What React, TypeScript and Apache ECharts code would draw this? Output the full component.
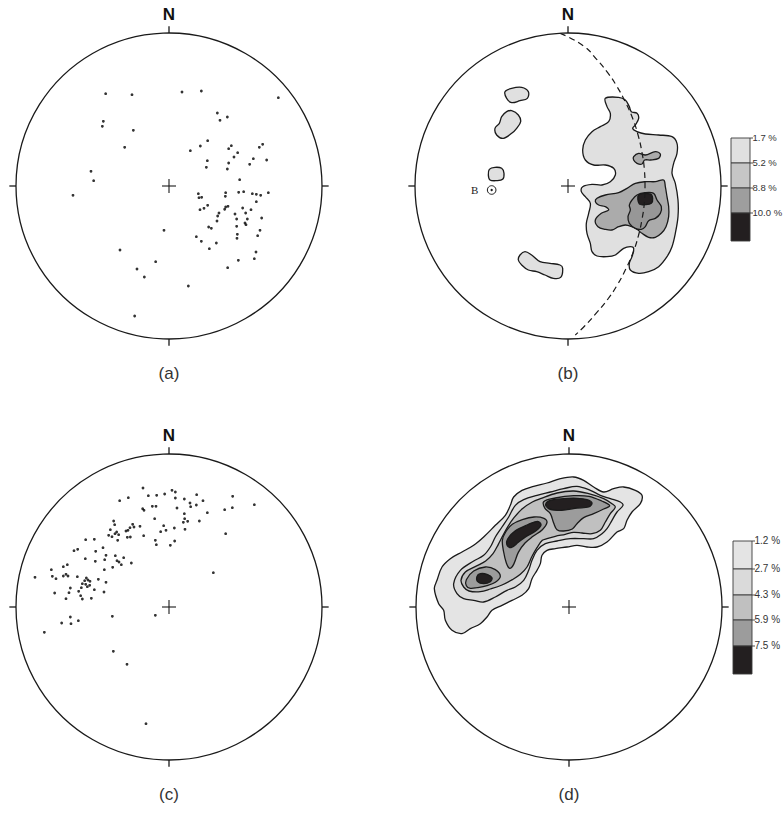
import React, { useEffect, useRef } from 'react';
import * as echarts from 'echarts';

// Projection units: radius of the primitive circle
const RADIUS = 459;
const TICK = 20;
const CROSS = 21;

// (a) poles
const POLES_A: number[][] = [
  [-190, 277], [-111, 274], [39, 282], [97, 285], [328, 265], [-197, 194], [-200, 179], [-107, 167],
  [145, 219], [153, 197], [175, 207], [-133, 116], [64, 106], [94, 120], [116, 136], [179, 112],
  [187, 121], [206, 100], [195, 87], [271, 116], [281, 125], [253, 82], [293, 78], [242, 65],
  [115, 76], [112, 56], [179, 69], [175, 51], [-234, 44], [-226, 16], [-288, -28], [212, 19],
  [88, -23], [90, -35], [98, -34], [170, -20], [169, -31], [209, -19], [224, -17], [250, -23],
  [262, -25], [275, -28], [298, -20], [262, -47], [246, -71], [93, -71], [105, -67], [116, -58],
  [167, -70], [177, -61], [170, -63], [150, -81], [146, -90], [144, -105], [198, -84], [203, -99],
  [221, -66], [230, -81], [235, -99], [228, -111], [231, -116], [278, -96], [203, -121], [119, -123],
  [127, -127], [-15, -133], [82, -152], [97, -166], [142, -171], [121, -188], [205, -145], [204, -157],
  [273, -133], [266, -149], [261, -198], [256, -218], [208, -223], [176, -245], [-147, -192], [-40, -227],
  [-96, -249], [-74, -273], [58, -300], [-103, -390],
];

// (c) poles
const POLES_C: number[][] = [
  [-78, 357], [-62, 334], [-37, 335], [-13, 339], [9, 350], [19, 345], [19, 327], [46, 324],
  [63, 312], [65, 301], [83, 337], [82, 306], [102, 319], [191, 332], [190, 298], [167, 292],
  [256, 307], [115, 283], [91, 258], [46, 280], [47, 265], [43, 254], [56, 257], [48, 233],
  [24, 297], [16, 237], [-16, 244], [-25, 226], [-9, 230], [-43, 265], [-41, 200], [-38, 187],
  [4, 185], [17, 198], [170, 220], [133, 103], [-148, 319], [-122, 328], [-50, 302], [-39, 302],
  [-79, 295], [-75, 290], [-76, 214], [-87, 242], [-105, 240], [-109, 248], [-117, 238], [-123, 230],
  [-129, 228], [-116, 210], [-125, 209], [-166, 258], [-163, 247], [-176, 232], [-157, 225], [-162, 220],
  [-151, 217], [-181, 215], [-171, 211], [-154, 200], [-250, 202], [-224, 203], [-274, 173], [-285, 169],
  [-220, 167], [-198, 178], [-251, 145], [-221, 137], [-189, 155], [-193, 142], [-161, 154], [-150, 135],
  [-156, 139], [-143, 127], [-136, 148], [-113, 132], [-169, 119], [-194, 112], [-212, 83], [-189, 74],
  [-195, 45], [-317, 121], [-305, 127], [-353, 112], [-350, 92], [-339, 85], [-317, 93], [-309, 98],
  [-303, 93], [-275, 91], [-248, 87], [-253, 79], [-243, 81], [-237, 77], [-260, 70], [-250, 68],
  [-263, 58], [-245, 61], [-238, 65], [-271, 47], [-265, 34], [-260, 24], [-233, 26], [-224, 52],
  [-296, 57], [-300, 43], [-309, 25], [-343, 42], [-402, 89], [-296, -30], [-294, -50], [-322, -48],
  [-272, -41], [-374, -76], [-170, -28], [-41, -25], [-167, -133], [-126, -172], [-69, -350],
];

// (b) density contours
const LEVELS_B = ['1.7 %', '5.2 %', '8.8 %', '10.0 %'];
const COLORS_B = ['#e0e0e0', '#c6c6c6', '#9e9e9e', '#231f20'];
// fill shades used inside the net (b)
const FILLS_B = ['#e0e0e0', '#ababab', '#979797', '#231f20'];

const B_MAIN = [
  [112, 263], [152, 266], [172, 258], [184, 238], [190, 223], [207, 218], [212, 203], [202, 183],
  [194, 173], [207, 163], [232, 156], [272, 153], [312, 148], [327, 128], [327, 98], [317, 68],
  [312, 38], [322, 8], [330, -42], [330, -92], [322, -142], [312, -182], [297, -212], [272, -242],
  [242, -257], [212, -262], [187, -252], [184, -232], [192, -212], [197, -187], [187, -182], [167, -187],
  [142, -207], [117, -212], [87, -210], [72, -197], [67, -172], [57, -142], [55, -112], [62, -82],
  [67, -52], [52, -32], [40, -17], [44, -2], [72, 5], [102, 3], [127, 13], [142, 33],
  [137, 53], [112, 63], [77, 63], [52, 78], [44, 108], [52, 138], [72, 163], [97, 178],
  [122, 193], [127, 218], [117, 238],
];
const B_ISLAND_1 = [[-189, 283], [-169, 293], [-139, 296], [-119, 283], [-122, 263], [-144, 256], [-169, 250], [-184, 263]];
const B_ISLAND_2 = [[-199, 208], [-184, 223], [-169, 226], [-149, 213], [-142, 193], [-154, 173], [-169, 158], [-194, 143], [-214, 153], [-219, 173], [-206, 188]];
const B_ISLAND_3 = [[-236, 50], [-219, 56], [-199, 53], [-192, 38], [-196, 20], [-214, 16], [-234, 18], [-239, 33]];
const B_ISLAND_4 = [[-144, -207], [-129, -197], [-109, -207], [-84, -227], [-54, -232], [-24, -237], [-16, -247], [-22, -274], [-44, -277], [-69, -267], [-94, -257], [-119, -252], [-139, -237], [-149, -222]];
const B_SMALL = [[197, 88], [212, 98], [232, 93], [262, 103], [277, 96], [272, 83], [247, 78], [230, 78], [222, 66], [207, 68], [197, 78]];
const B_MID = [
  [87, -37], [112, -27], [152, -20], [177, -7], [202, 8], [232, 13], [262, 13], [287, 18],
  [292, -2], [297, -32], [302, -62], [302, -92], [294, -122], [280, -142], [262, -154], [242, -154],
  [222, -142], [207, -130], [192, -122], [172, -117], [152, -122], [132, -132], [112, -130], [90, -122],
  [82, -102], [100, -82], [122, -72], [112, -62], [92, -57], [82, -47],
];
const B_INNER = [
  [192, -42], [207, -27], [232, -20], [257, -22], [267, -42], [280, -62], [277, -82], [262, -97],
  [242, -104], [232, -122], [220, -130], [202, -127], [184, -112], [180, -92], [187, -72], [184, -57],
];
const B_CORE = [[212, -27], [247, -24], [254, -37], [250, -52], [232, -56], [214, -54]];

const CONTOURS_B = [
  { level: 0, ring: B_MAIN }, { level: 0, ring: B_ISLAND_1 }, { level: 0, ring: B_ISLAND_2 },
  { level: 0, ring: B_ISLAND_3 }, { level: 0, ring: B_ISLAND_4 }, { level: 1, ring: B_SMALL },
  { level: 1, ring: B_MID }, { level: 2, ring: B_INNER }, { level: 3, ring: B_CORE },
];

const GREAT_CIRCLE_B = [
  [-23, 458], [47, 420], [86, 380], [119, 340], [146, 300], [173, 250], [195, 200], [211, 150],
  [222, 100], [229, 50], [231, 0], [229, -50], [222, -100], [211, -150], [195, -200], [173, -250],
  [146, -300], [119, -340], [86, -380], [50, -420], [22, -447],
];
const B_AXIS = [[-229, -12]];
const B_AXIS_LABEL = 'B';

// (d) density contours
const LEVELS_D = ['1.2 %', '2.7 %', '4.3 %', '5.9 %', '7.5 %'];
const COLORS_D = ['#e4e4e4', '#dadada', '#c0c0c0', '#9c9c9c', '#231f20'];

const D_L1 = [
  [-351, -70], [-371, -40], [-376, -10], [-391, 10], [-404, 55], [-396, 80], [-381, 120], [-356, 145],
  [-321, 165], [-286, 185], [-256, 210], [-221, 245], [-191, 275], [-176, 305], [-166, 330], [-141, 350],
  [-106, 362], [-66, 372], [-26, 385], [14, 390], [44, 380], [74, 360], [104, 345], [134, 355],
  [164, 360], [199, 350], [219, 335], [214, 310], [189, 285], [174, 260], [164, 235], [144, 225],
  [114, 195], [84, 180], [54, 180], [24, 185], [-6, 180], [-41, 175], [-66, 170], [-81, 155],
  [-86, 130], [-96, 110], [-111, 85], [-121, 55], [-141, 35], [-171, 20], [-201, 5], [-231, -10],
  [-246, -30], [-266, -50], [-296, -65], [-321, -80],
];
const D_L2 = [
  [-346, 70], [-326, 110], [-286, 138], [-256, 155], [-236, 180], [-221, 210], [-201, 240], [-181, 270],
  [-161, 305], [-136, 322], [-96, 335], [-56, 345], [-16, 355], [24, 362], [64, 350], [94, 335],
  [124, 325], [154, 315], [162, 305], [144, 285], [129, 260], [114, 235], [99, 220], [74, 205],
  [44, 205], [4, 205], [-36, 198], [-71, 190], [-96, 170], [-111, 140], [-121, 110], [-136, 80],
  [-161, 60], [-186, 50], [-221, 30], [-256, 15], [-286, 20], [-316, 25], [-336, 40],
];
const D_L3 = [
  [-324, 80], [-311, 105], [-280, 122], [-250, 138], [-228, 160], [-212, 188], [-198, 215], [-183, 242],
  [-165, 268], [-140, 295], [-110, 315], [-86, 325], [-36, 342], [14, 348], [59, 340], [104, 325],
  [129, 310], [139, 300], [124, 280], [109, 255], [94, 230], [69, 220], [39, 222], [14, 224],
  [-11, 218], [-41, 212], [-66, 205], [-80, 200], [-96, 178], [-112, 150], [-126, 120], [-146, 98],
  [-170, 82], [-201, 66], [-236, 54], [-266, 46], [-300, 48], [-316, 60],
];
const D_L4_UPPER = [
  [-76, 316], [-41, 327], [14, 334], [60, 332], [98, 318], [122, 304], [104, 294], [74, 280],
  [44, 268], [24, 250], [10, 234], [-16, 228], [-36, 232], [-46, 252], [-56, 280], [-72, 296],
];
const D_L4_MID = [
  [-200, 200], [-190, 225], [-170, 248], [-140, 262], [-105, 270], [-75, 266], [-66, 254], [-80, 232],
  [-108, 212], [-132, 192], [-152, 164], [-166, 128], [-178, 116], [-188, 132], [-196, 165],
];
const D_L4_LOW = [[-308, 64], [-308, 82], [-286, 108], [-251, 120], [-221, 112], [-206, 92], [-221, 74], [-246, 64], [-276, 58], [-296, 56]];
const D_L5_UPPER = [[-70, 308], [-56, 320], [-16, 325], [24, 326], [54, 322], [69, 312], [59, 300], [24, 297], [-6, 292], [-36, 290], [-61, 295]];
const D_L5_MID = [[-184, 204], [-162, 228], [-126, 246], [-94, 257], [-84, 246], [-100, 228], [-128, 212], [-152, 194], [-174, 178], [-186, 186]];
const D_L5_LOW = [[-276, 92], [-266, 100], [-246, 98], [-231, 88], [-236, 76], [-256, 70], [-274, 76]];

const CONTOURS_D = [
  { level: 0, ring: D_L1 }, { level: 1, ring: D_L2 }, { level: 2, ring: D_L3 },
  { level: 3, ring: D_L4_UPPER }, { level: 3, ring: D_L4_MID }, { level: 3, ring: D_L4_LOW },
  { level: 4, ring: D_L5_UPPER }, { level: 4, ring: D_L5_MID }, { level: 4, ring: D_L5_LOW },
];

const PANEL_LABELS = ['(a)', '(b)', '(c)', '(d)'];
const NORTH = 'N';

const INK = '#1a1a1a';
const FONT = '"Liberation Sans", Arial, sans-serif';

function frameRender(_params: any, api: any) {
  const c = api.coord([0, 0]);
  const r = api.size([RADIUS, 0])[0];
  const t = api.size([TICK, 0])[0];
  const k = api.size([CROSS, 0])[0];
  const ls = { stroke: INK, lineWidth: 1.3 };
  return {
    type: 'group',
    children: [
      { type: 'circle', shape: { cx: c[0], cy: c[1], r }, style: { fill: 'none', ...ls } },
      { type: 'line', shape: { x1: c[0], y1: c[1] - r - t, x2: c[0], y2: c[1] - r }, style: ls },
      { type: 'line', shape: { x1: c[0], y1: c[1] + r, x2: c[0], y2: c[1] + r + t }, style: ls },
      { type: 'line', shape: { x1: c[0] - r - t, y1: c[1], x2: c[0] - r, y2: c[1] }, style: ls },
      { type: 'line', shape: { x1: c[0] + r, y1: c[1], x2: c[0] + r + t, y2: c[1] }, style: ls },
      { type: 'line', shape: { x1: c[0] - k, y1: c[1], x2: c[0] + k, y2: c[1] }, style: { stroke: INK, lineWidth: 1.1 } },
      { type: 'line', shape: { x1: c[0], y1: c[1] - k, x2: c[0], y2: c[1] + k }, style: { stroke: INK, lineWidth: 1.1 } },
    ],
  };
}

function contourSeries(contours: { level: number; ring: number[][] }[], colors: string[], gi: number) {
  return {
    type: 'custom',
    xAxisIndex: gi,
    yAxisIndex: gi,
    clip: false,
    silent: true,
    z: 2,
    data: contours.map((c) => c.ring[0]),
    renderItem: (params: any, api: any) => {
      const item = contours[params.dataIndex];
      const pts = item.ring.map((p) => api.coord(p));
      return {
        type: 'polygon',
        shape: { points: pts, smooth: 0.35 },
        style: { fill: colors[item.level], stroke: INK, lineWidth: 1.3 },
      };
    },
  };
}

function frameSeries(gi: number) {
  return {
    type: 'custom',
    xAxisIndex: gi,
    yAxisIndex: gi,
    clip: false,
    silent: true,
    z: 5,
    data: [[0, 0]],
    renderItem: frameRender,
  };
}

function axisMarkSeries(gi: number) {
  return {
    type: 'custom',
    xAxisIndex: gi,
    yAxisIndex: gi,
    clip: false,
    silent: true,
    z: 6,
    data: B_AXIS,
    renderItem: (_p: any, api: any) => {
      const c = api.coord([api.value(0), api.value(1)]);
      return {
        type: 'group',
        children: [
          { type: 'circle', shape: { cx: c[0], cy: c[1], r: 4.3 }, style: { fill: '#fff', stroke: INK, lineWidth: 1 } },
          { type: 'circle', shape: { cx: c[0], cy: c[1], r: 1.2 }, style: { fill: INK } },
          {
            type: 'text', x: c[0] - 17, y: c[1],
            style: { text: B_AXIS_LABEL, fontSize: 11, fontFamily: '"Liberation Serif", "DejaVu Serif", serif', fill: '#222', align: 'center', verticalAlign: 'middle' },
          },
        ],
      };
    },
  };
}

function legend(x: number, bounds: number[], colors: string[], labels: string[], fs: number) {
  const els: any[] = [];
  const w = 19;
  colors.forEach((c, i) => {
    els.push({
      type: 'rect',
      shape: { x, y: bounds[i], width: w, height: bounds[i + 1] - bounds[i] },
      style: { fill: c, stroke: '#3a3a3a', lineWidth: 0.9 },
    });
  });
  labels.forEach((l, i) => {
    els.push({
      type: 'line',
      shape: { x1: x + w, y1: bounds[i], x2: x + w + 3, y2: bounds[i] },
      style: { stroke: '#3a3a3a', lineWidth: 0.9 },
    });
    els.push({
      type: 'text',
      x: x + w + 2.5,
      y: bounds[i] - 1,
      style: { text: l, fontSize: fs, fontFamily: FONT, fill: '#333', align: 'left', verticalAlign: 'middle' },
    });
  });
  return els;
}

export default function App() {
  const ref = useRef<HTMLDivElement>(null);
  useEffect(() => {
    const chart = echarts.init(ref.current!, null, { renderer: 'svg' });
    const grids = [
      { left: 16, top: 33, width: 306, height: 306 },
      { left: 415, top: 33, width: 306, height: 306 },
      { left: 16, top: 454, width: 306, height: 306 },
      { left: 416, top: 454, width: 306, height: 306 },
    ];
    const axis = (gi: number) => ({ type: 'value', gridIndex: gi, min: -RADIUS, max: RADIUS, show: false });
    const centers = grids.map((g) => [g.left + g.width / 2, g.top + g.height / 2]);
    const texts: any[] = [];
    centers.forEach((c, i) => {
      texts.push({
        type: 'text', x: c[0], y: c[1] - 172,
        style: { text: NORTH, fontSize: 17, fontWeight: 'bold', fontFamily: FONT, fill: '#111', align: 'center', verticalAlign: 'middle' },
      });
      texts.push({
        type: 'text', x: c[0], y: c[1] + 187,
        style: { text: PANEL_LABELS[i], fontSize: 17, fontFamily: FONT, fill: '#333', align: 'center', verticalAlign: 'middle' },
      });
    });
    const option: any = {
      animation: false,
      backgroundColor: '#fff',
      grid: grids,
      xAxis: [0, 1, 2, 3].map(axis),
      yAxis: [0, 1, 2, 3].map(axis),
      series: [
        frameSeries(0),
        { type: 'scatter', xAxisIndex: 0, yAxisIndex: 0, data: POLES_A, symbol: 'circle', symbolSize: 2.8, itemStyle: { color: '#000' }, silent: true, z: 3 },
        contourSeries(CONTOURS_B, FILLS_B, 1),
        frameSeries(1),
        {
          type: 'line', xAxisIndex: 1, yAxisIndex: 1, data: GREAT_CIRCLE_B, smooth: true, showSymbol: false, silent: true, z: 4,
          lineStyle: { color: INK, width: 1.2, type: [6, 4] },
        },
        axisMarkSeries(1),
        frameSeries(2),
        { type: 'scatter', xAxisIndex: 2, yAxisIndex: 2, data: POLES_C, symbol: 'circle', symbolSize: 2.8, itemStyle: { color: '#000' }, silent: true, z: 3 },
        contourSeries(CONTOURS_D, COLORS_D, 3),
        frameSeries(3),
      ],
      graphic: [
        ...texts,
        ...legend(731, [138, 163, 188, 213, 241], COLORS_B, LEVELS_B, 9.5),
        ...legend(733, [541, 569, 595, 620, 646, 674], COLORS_D, LEVELS_D, 10),
      ],
    };
    chart.setOption(option);
    return () => chart.dispose();
  }, []);
  return <div ref={ref} style={{ position: 'fixed', left: 0, top: 0, width: 784, height: 815, background: '#fff' }} />;
}
